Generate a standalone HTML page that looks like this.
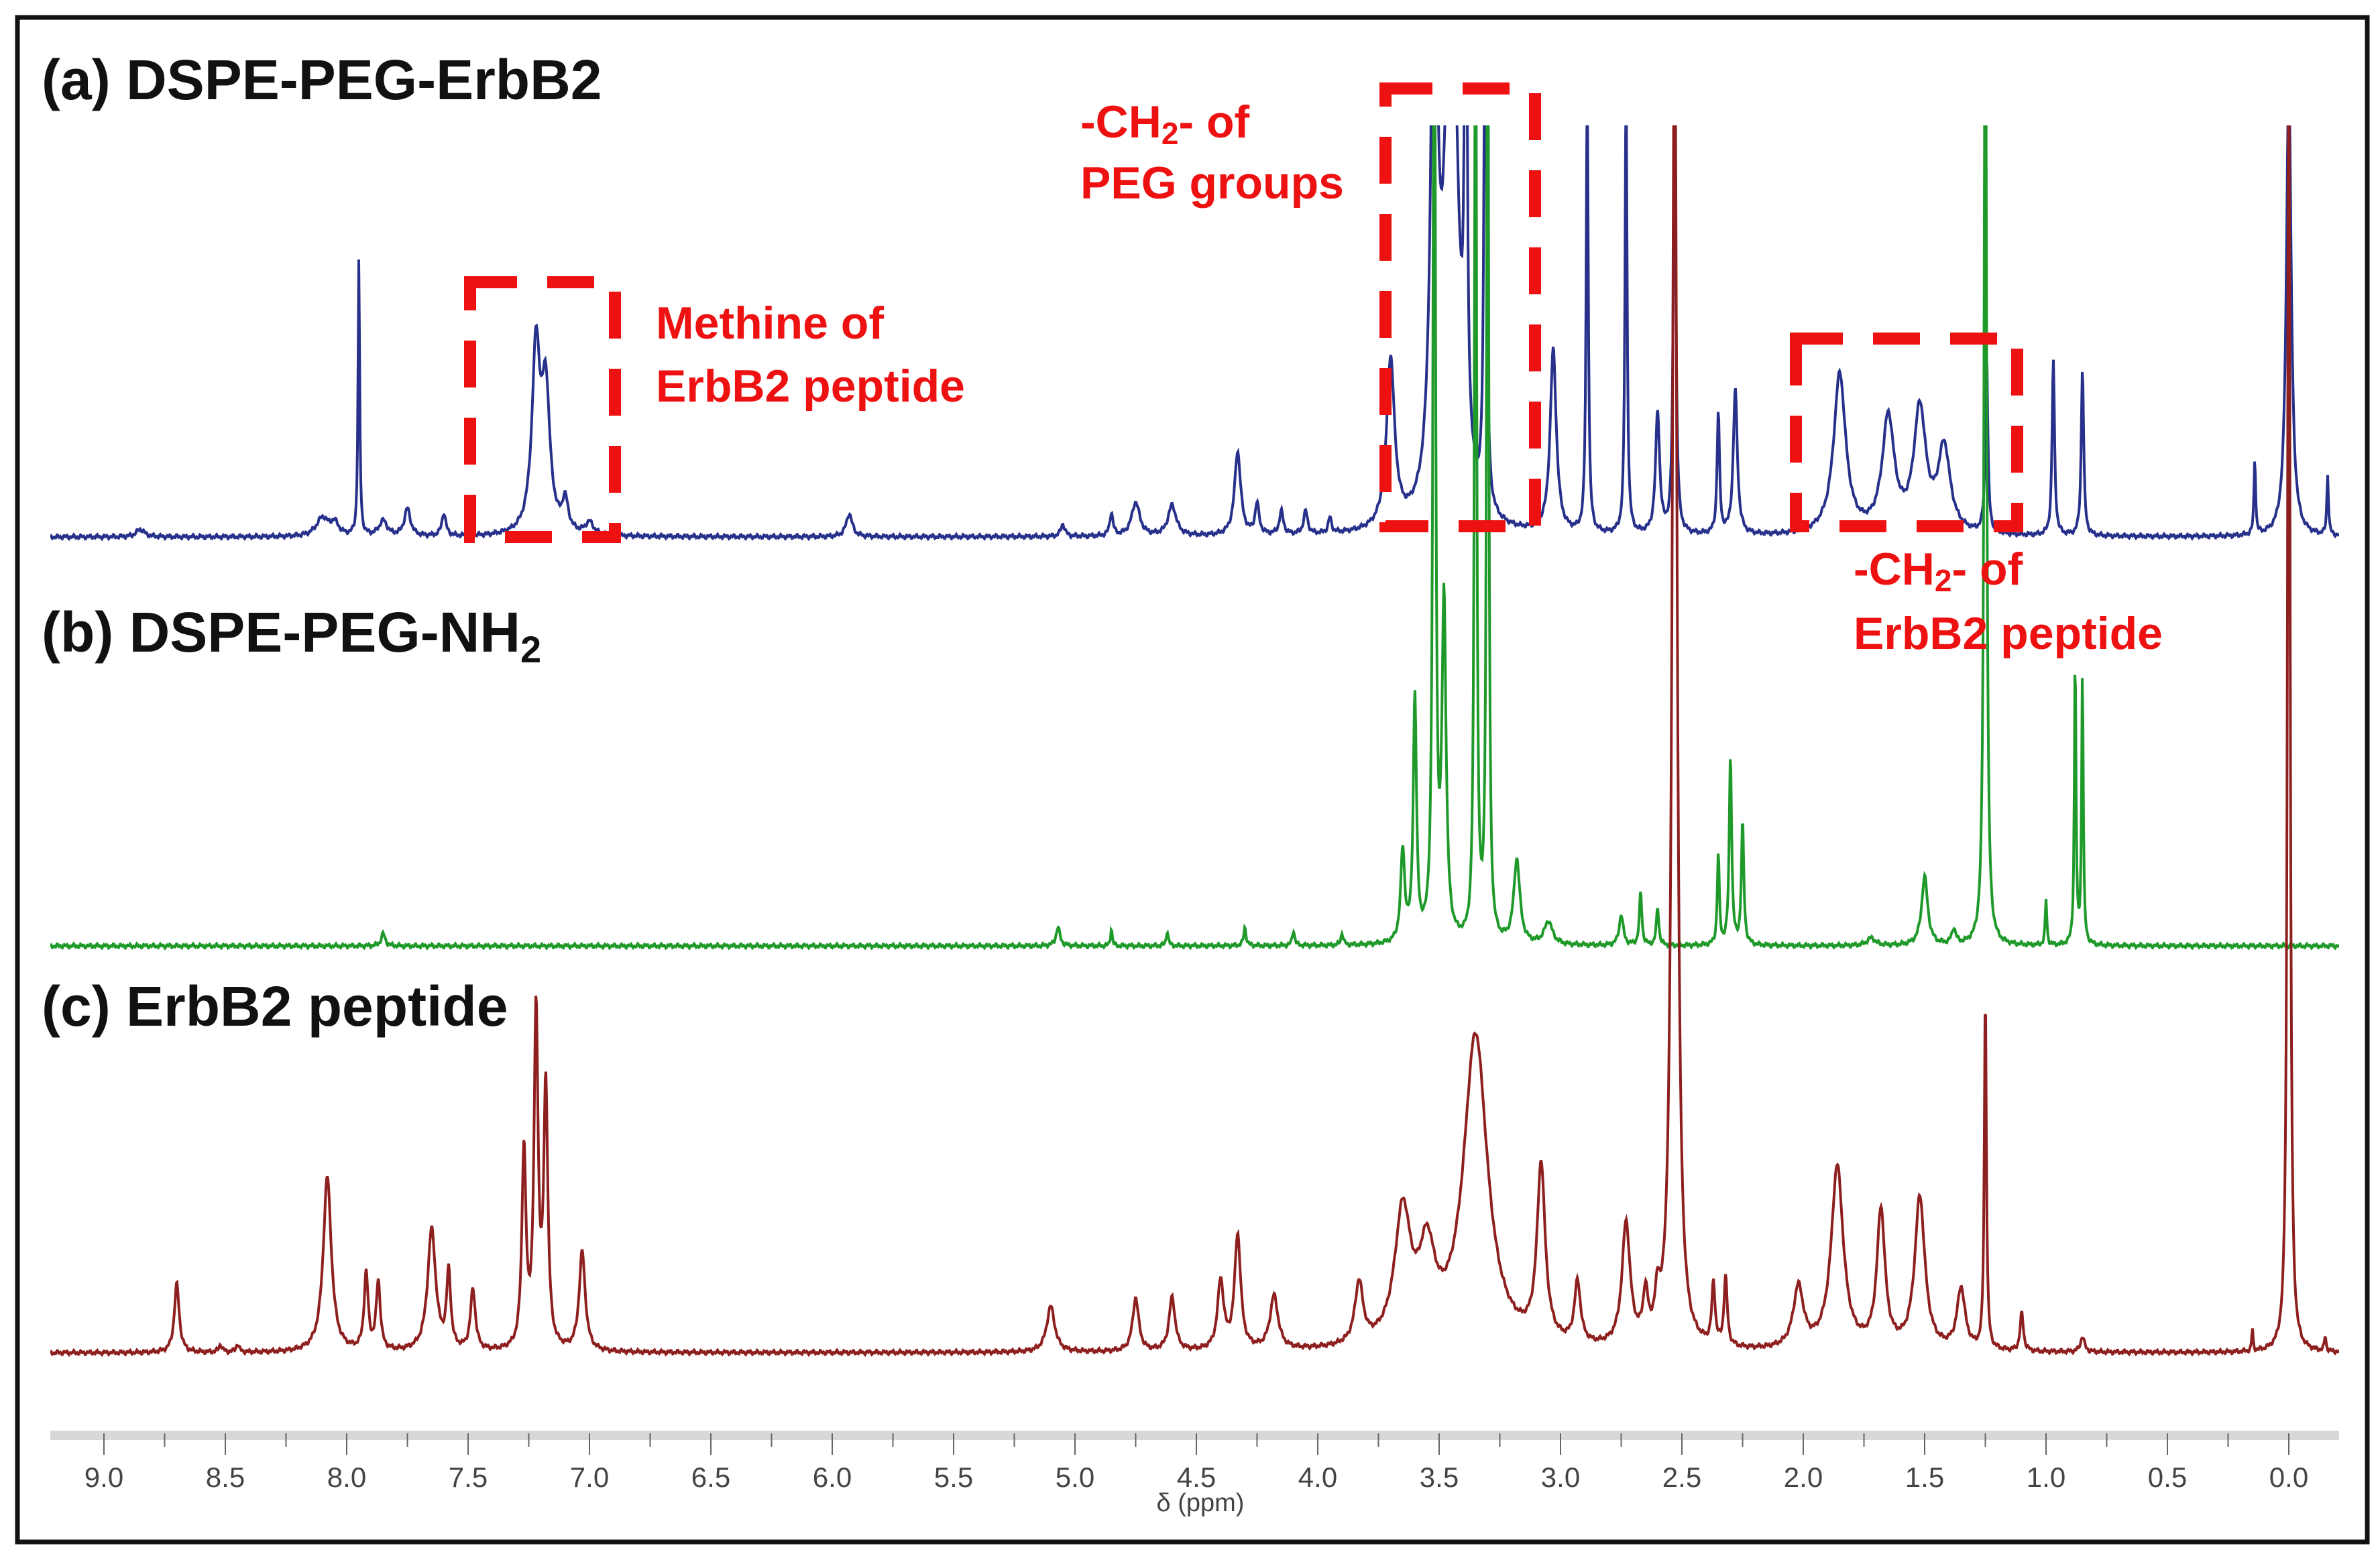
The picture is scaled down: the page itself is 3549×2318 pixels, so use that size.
<!DOCTYPE html>
<html><head><meta charset="utf-8"><style>
html,body{margin:0;padding:0;background:#fff;}
svg{display:block;}
</style></head><body>
<svg id="chart" width="3549" height="2318" viewBox="0 0 3549 2318" xmlns="http://www.w3.org/2000/svg" font-family="Liberation Sans, sans-serif">
<defs><clipPath id="plotclip"><rect x="75" y="187" width="3413" height="1950"/></clipPath></defs>
<rect x="26" y="26" width="3504" height="2274" fill="#fff" stroke="#111" stroke-width="7"/>
<g id="axis"></g>
<g id="spectra" clip-path="url(#plotclip)"></g>
<g fill="none" stroke="#ee1111" stroke-width="18" stroke-dasharray="70 45">
<rect x="701" y="421" width="216" height="380"/>
<rect x="2066" y="132" width="223" height="653"/>
<rect x="2678" y="505" width="330" height="280"/>
</g>
<g font-weight="bold" fill="#111" font-size="84">
<text x="62" y="148">(a) DSPE-PEG-ErbB2</text>
<text x="62" y="972">(b) DSPE-PEG-NH<tspan font-size="56" dy="16">2</tspan></text>
<text x="62" y="1530">(c) ErbB2 peptide</text>
</g>
<g font-weight="bold" fill="#ee1111" font-size="68">
<text x="1611" y="205">-CH<tspan font-size="46" dy="10">2</tspan><tspan dy="-10">- of</tspan></text>
<text x="1611" y="296">PEG groups</text>
<text x="978" y="505">Methine of</text>
<text x="978" y="599">ErbB2 peptide</text>
<text x="2764" y="872">-CH<tspan font-size="46" dy="10">2</tspan><tspan dy="-10">- of</tspan></text>
<text x="2764" y="968">ErbB2 peptide</text>
</g>
</svg>
<script>
// Peak lists (ppm, height in display units, width ppm)
const aPos=[8.85,8.1,8.05,7.95,7.85,7.75,7.6,7.22,7.18,7.1,7.0,5.93,5.05,4.85,4.75,4.6,4.33,4.25,4.15,4.05,3.95,3.7,3.52,3.45,3.39,3.31,3.03,2.89,2.73,2.6,2.53,2.35,2.28,1.85,1.65,1.52,1.42,1.245,0.97,0.85,0.14,0.0,-0.16];
const aHt=[5,12,8,180,10,18,15,120,90,20,8,15,8,15,22,20,55,20,15,15,10,110,400,400,400,400,120,300,300,80,300,80,95,105,75,80,55,120,115,110,50,300,40];
const aW=[0.02,0.03,0.02,0.004,0.02,0.015,0.01,0.02,0.02,0.015,0.02,0.015,0.01,0.008,0.02,0.02,0.015,0.01,0.01,0.01,0.008,0.02,0.015,0.03,0.006,0.006,0.015,0.005,0.005,0.01,0.006,0.006,0.01,0.03,0.03,0.03,0.03,0.006,0.006,0.006,0.004,0.012,0.004];
const bPos=[7.85,5.07,4.85,4.62,4.3,4.1,3.9,3.65,3.6,3.52,3.48,3.35,3.3,3.18,3.05,2.75,2.67,2.6,2.35,2.3,2.25,1.72,1.5,1.38,1.25,1.0,0.88,0.85];
const bHt=[8,12,12,10,12,10,8,60,160,700,220,700,700,55,15,20,35,25,60,125,80,5,45,10,700,30,190,180];
const bW=[0.01,0.01,0.004,0.005,0.006,0.006,0.006,0.01,0.008,0.006,0.01,0.005,0.005,0.015,0.02,0.01,0.006,0.006,0.005,0.006,0.006,0.02,0.015,0.01,0.006,0.004,0.004,0.004];
const cPos=[8.7,8.52,8.45,8.08,7.92,7.87,7.65,7.58,7.48,7.27,7.22,7.18,7.03,5.1,4.75,4.6,4.4,4.33,4.18,3.83,3.65,3.55,3.35,3.08,2.93,2.73,2.65,2.6,2.53,2.37,2.32,2.02,1.86,1.68,1.52,1.35,1.25,1.1,0.85,0.15,0.0,-0.15];
const cHt=[45,5,5,115,50,45,80,50,40,130,220,170,65,30,35,35,45,75,35,40,85,55,205,115,40,80,30,25,900,40,45,40,120,90,100,40,235,25,10,15,900,10];
const cW=[0.012,0.008,0.008,0.02,0.01,0.01,0.02,0.01,0.012,0.01,0.01,0.01,0.015,0.02,0.015,0.015,0.015,0.015,0.02,0.02,0.04,0.04,0.06,0.02,0.015,0.02,0.012,0.012,0.012,0.008,0.008,0.025,0.03,0.02,0.025,0.02,0.005,0.008,0.01,0.003,0.006,0.004];
const ticks=[9.0,8.5,8.0,7.5,7.0,6.5,6.0,5.5,5.0,4.5,4.0,3.5,3.0,2.5,2.0,1.5,1.0,0.5,0.0];

const S=2.277, X0=75, X1=3488;
const xOf=p=>155+(9.0-p)*362;
const pOf=x=>9.0-(x-155)/362;
const NS='http://www.w3.org/2000/svg';
function spec(pos,ht,w,base,color,name){
  let d='';
  for(let x=X0;x<=X1;x+=1){
    const p=pOf(x);let v=0;
    for(let i=0;i<pos.length;i++){const dx=p-pos[i];v+=ht[i]*w[i]*w[i]/(dx*dx+w[i]*w[i]);}
    v+=1.5*Math.sin(x*0.9)*Math.cos(x*0.37);
    const y=base-v*S;
    d+=(x===X0?'M':'L')+x+' '+y.toFixed(1);
  }
  const el=document.createElementNS(NS,'path');
  el.setAttribute('d',d);el.setAttribute('fill','none');el.setAttribute('stroke',color);el.setAttribute('stroke-width','4');
  
  
  document.getElementById('spectra').appendChild(el);
}
spec(aPos,aHt,aW,801,'#27308a','spectrum-a');
spec(bPos,bHt,bW,1411,'#1f9a2a','spectrum-b');
spec(cPos,cHt,cW,2018,'#8e1f1f','spectrum-c');

const ax=document.getElementById('axis');
const line=document.createElementNS(NS,'rect');
line.setAttribute('x',X0);line.setAttribute('y',2134);line.setAttribute('width',X1-X0);line.setAttribute('height',14);line.setAttribute('fill','#d8d8d8');


ax.appendChild(line);
for(let p=9.0;p>=-0.001;p-=0.25){
  const x=xOf(p);const major=Math.abs(p*2-Math.round(p*2))<0.01;
  const t=document.createElementNS(NS,'line');
  t.setAttribute('x1',x);t.setAttribute('x2',x);t.setAttribute('y1',2138);t.setAttribute('y2',major?2170:2158);t.setAttribute('stroke','#666');t.setAttribute('stroke-width','2');
  
  
  ax.appendChild(t);
}
ticks.forEach(v=>{
  const t=document.createElementNS(NS,'text');
  t.setAttribute('x',xOf(v));t.setAttribute('y',2218);t.setAttribute('text-anchor','middle');t.setAttribute('font-size','42');t.setAttribute('fill','#444');
  t.textContent=v.toFixed(1);
  
  
  ax.appendChild(t);
});
const tl=document.createElementNS(NS,'text');
tl.setAttribute('x',1790);tl.setAttribute('y',2254);tl.setAttribute('text-anchor','middle');tl.setAttribute('font-size','38');tl.setAttribute('fill','#444');
tl.textContent='δ (ppm)';


ax.appendChild(tl);
</script>
</body></html>
